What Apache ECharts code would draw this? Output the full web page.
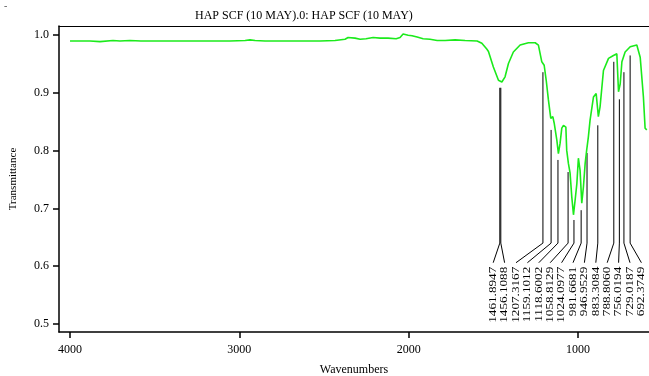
<!DOCTYPE html>
<html>
<head>
<meta charset="utf-8">
<script src="https://cdn.jsdelivr.net/npm/echarts@6/dist/echarts.min.js"></script>
<style>
  html, body {margin: 0; padding: 0; background: #fff;}
  #chart {width: 649px; height: 376px;}
</style>
</head>
<body>
<div id="chart"></div>
<script>
// spectrum
const wavenumbers = [
  4000, 3882, 3823, 3746, 3705, 3646, 3581, 3468, 3232, 3055, 2966, 2937, 2907, 2848,
  2641, 2583, 2523, 2435, 2376, 2358, 2317, 2287, 2252, 2210, 2169, 2122, 2074, 2051,
  2033, 2003, 1980, 1950, 1915, 1874, 1832, 1785, 1726, 1667, 1596, 1568, 1539, 1529,
  1500, 1470, 1450, 1431, 1411, 1382, 1342, 1293, 1253, 1234, 1214, 1200, 1188, 1175,
  1161, 1149, 1141, 1125, 1116, 1106, 1096, 1086, 1072, 1067, 1057, 1047, 1037, 1027,
  1017, 1007, 998, 988, 978, 968, 958, 949, 939, 929, 909, 893, 880, 870, 850, 820,
  791, 771, 761, 751, 741, 722, 692, 653, 633, 614, 604, 594,
]
const transmittance = [
  0.990, 0.990, 0.989, 0.991, 0.990, 0.991, 0.990, 0.990, 0.990, 0.990, 0.991, 0.992, 0.991, 0.990,
  0.990, 0.990, 0.990, 0.991, 0.993, 0.996, 0.995, 0.993, 0.994, 0.996, 0.995, 0.995, 0.994, 0.996,
  1.002, 1.000, 0.999, 0.997, 0.994, 0.993, 0.991, 0.991, 0.992, 0.991, 0.990, 0.986, 0.976, 0.972,
  0.945, 0.922, 0.919, 0.928, 0.951, 0.971, 0.983, 0.987, 0.987, 0.983, 0.954, 0.948, 0.922, 0.888,
  0.856, 0.859, 0.848, 0.818, 0.795, 0.813, 0.839, 0.844, 0.841, 0.801, 0.778, 0.761, 0.720, 0.689,
  0.715, 0.743, 0.787, 0.766, 0.709, 0.738, 0.778, 0.801, 0.824, 0.853, 0.893, 0.899, 0.859, 0.876, 0.939, 0.960,
  0.965, 0.968, 0.902, 0.916, 0.954, 0.971, 0.980, 0.983, 0.962, 0.893, 0.839, 0.836,
]

// peak picks: position, top of the marker line, label
const peakWn = [1461.8947, 1456.1088, 1207.3167, 1159.1012, 1118.6002, 1058.8129, 1024.0977,
  981.6681, 946.9529, 883.3084, 788.8060, 756.0194, 729.0187, 692.3749]
const peakTop = [0.909, 0.909, 0.936, 0.836, 0.784, 0.763, 0.680,
  0.697, 0.796, 0.844, 0.954, 0.889, 0.936, 0.965]
const peakLabels = peakWn.map(v => v.toFixed(4))

const xTicks = [4000, 3000, 2000, 1000]
const yTicks = [0.5, 0.6, 0.7, 0.8, 0.9, 1.0]

const serif = "'Liberation Serif', 'DejaVu Serif', serif"
const lineGreen = '#1bea1b'

const bendT = 0.640   // where the marker lines start to fan out
const slotT = 0.606   // where the connectors end
const slotStep = 11.4 // px between label columns

const chart = echarts.init(document.getElementById('chart'))

const renderPeak = (params, api) => {
  const i = params.dataIndex
  const top = api.coord([api.value(0), api.value(1)])
  const bend = api.coord([api.value(0), bendT])
  const first = api.coord([1501, slotT])
  const slot = [first[0] + i * slotStep, first[1]]
  return {
    type: 'group',
    children: [{
      type: 'polyline',
      shape: {points: [top, bend, slot]},
      style: {stroke: '#000', lineWidth: 1, fill: null},
    }, {
      type: 'text',
      x: slot[0],
      y: slot[1] + 4,
      rotation: Math.PI / 2,
      scaleX: 1.2,
      style: {
        text: peakLabels[i],
        font: `11px ${serif}`,
        fill: '#000',
        align: 'right',
        verticalAlign: 'middle',
      },
    }],
  }
}

const xRange = {type: 'value', inverse: true, min: 581, max: 4065}

chart.setOption({
  backgroundColor: '#fff',
  animation: false,
  title: {
    text: 'HAP SCF (10 MAY).0: HAP SCF (10 MAY)',
    left: 190,
    top: 5,
    textStyle: {fontFamily: serif, fontSize: 12, fontWeight: 'normal', color: '#000'},
  },
  graphic: [{
    type: 'text',
    left: 4,
    top: 1,
    style: {text: '-', font: `10px ${serif}`, fill: '#555'},
  }],
  grid: {
    left: 59,
    right: 0,
    top: 26,
    bottom: 44,
    outerBoundsMode: 'none',
    containLabel: false,
  },
  xAxis: [{
    ...xRange,
    name: 'Wavenumbers',
    nameLocation: 'middle',
    nameGap: 32,
    nameTextStyle: {fontFamily: serif, fontSize: 12, color: '#000'},
    axisLine: {lineStyle: {color: '#000', width: 1.5}},
    axisTick: {customValues: xTicks, length: 6, lineStyle: {color: '#000', width: 1.5}},
    axisLabel: {
      customValues: xTicks,
      fontFamily: serif,
      fontSize: 12,
      color: '#000',
      margin: 12,
      formatter: v => String(v),
    },
    splitLine: {show: false},
  }, {
    ...xRange,
    position: 'top',
    axisLine: {lineStyle: {color: '#000', width: 1}},
    axisTick: {show: false},
    axisLabel: {show: false},
    splitLine: {show: false},
  }],
  yAxis: {
    type: 'value',
    min: 0.486,
    max: 1.016,
    name: 'Transmittance',
    nameLocation: 'middle',
    nameGap: 40,
    nameTextStyle: {fontFamily: serif, fontSize: 11, color: '#000'},
    axisLine: {show: true, lineStyle: {color: '#000', width: 1.5}},
    axisTick: {show: true, customValues: yTicks, length: 6, lineStyle: {color: '#000', width: 1.5}},
    axisLabel: {
      customValues: yTicks,
      fontFamily: serif,
      fontSize: 12,
      color: '#000',
      margin: 10,
      formatter: v => v.toFixed(1),
    },
    splitLine: {show: false},
  },
  series: [{
    type: 'line',
    data: wavenumbers.map((w, i) => [w, transmittance[i]]),
    showSymbol: false,
    lineStyle: {color: lineGreen, width: 1.6},
    z: 3,
  }, {
    type: 'custom',
    renderItem: renderPeak,
    data: peakWn.map((w, i) => [w, peakTop[i]]),
    z: 2,
  }],
})
</script>
</body>
</html>
